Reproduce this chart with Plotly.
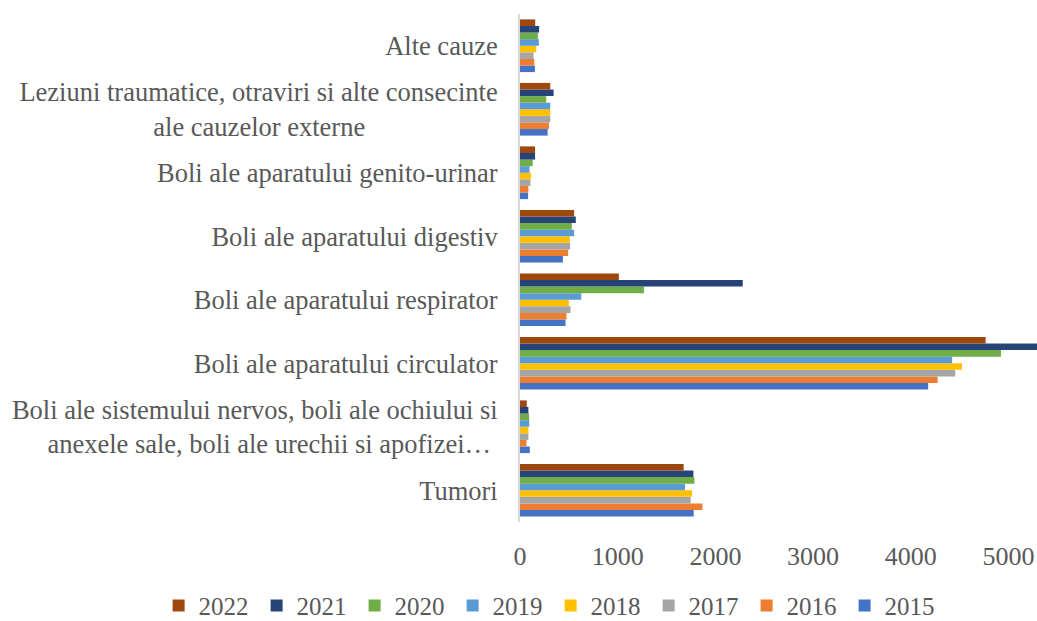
import plotly.graph_objects as go

categories = [
    "Tumori",
    "Boli ale sistemului nervos, boli ale ochiului si anexele sale, boli ale urechii si apofizei…",
    "Boli ale aparatului circulator",
    "Boli ale aparatului respirator",
    "Boli ale aparatului digestiv",
    "Boli ale aparatului genito-urinar",
    "Leziuni traumatice, otraviri si alte consecinte ale cauzelor externe",
    "Alte cauze",
]

tick_labels = [
    "Tumori",
    "Boli ale sistemului nervos, boli ale ochiului si<br>anexele sale, boli ale urechii si apofizei…" + "\u00a0",
    "Boli ale aparatului circulator",
    "Boli ale aparatului respirator",
    "Boli ale aparatului digestiv",
    "Boli ale aparatului genito-urinar",
    "Leziuni traumatice, otraviri si alte consecinte<br>ale cauzelor externe" + "\u00a0" * 20,
    "Alte cauze",
]

years = ["2015", "2016", "2017", "2018", "2019", "2020", "2021", "2022"]

v2015 = [1778, 100, 4178, 466, 439, 83, 283, 152]
v2016 = [1867, 66, 4275, 476, 493, 86, 296, 146]
v2017 = [1747, 86, 4455, 517, 513, 107, 310, 139]
v2018 = [1760, 86, 4524, 500, 510, 113, 310, 166]
v2019 = [1689, 95, 4424, 627, 554, 97, 310, 193]
v2020 = [1785, 93, 4923, 1268, 530, 130, 269, 183]
v2021 = [1775, 86, 5295, 2280, 571, 154, 344, 196]
v2022 = [1675, 69, 4766, 1012, 554, 154, 310, 156]

series = [v2015, v2016, v2017, v2018, v2019, v2020, v2021, v2022]
colors = ["#4472C4", "#ED7D31", "#A5A5A5", "#FFC000", "#5B9BD5", "#70AD47", "#264478", "#9E480E"]

fig = go.Figure()
for y, vals, c in zip(years, series, colors):
    fig.add_trace(go.Bar(
        y=categories, x=vals, name=y, orientation="h",
        marker=dict(color=c, line=dict(width=0)),
    ))

font_family = "Liberation Serif, Times New Roman, serif"
fig.update_layout(
    width=1037, height=621,
    barmode="group", bargap=0.17, bargroupgap=0,
    plot_bgcolor="white", paper_bgcolor="white",
    margin=dict(l=520, r=0, t=14, b=99, autoexpand=False),
    font=dict(family=font_family, size=25, color="#595959"),
    xaxis=dict(range=[0, 5292], tickvals=[0, 1000, 2000, 3000, 4000, 5000],
               showgrid=False, zeroline=False, showline=False,
               ticks="", ticklabelstandoff=16,
               tickfont=dict(size=26, color="#595959")),
    yaxis=dict(categoryorder="array", categoryarray=categories,
               tickvals=categories, ticktext=tick_labels,
               showgrid=False, zeroline=False, showline=True,
               linecolor="#D9D9D9", linewidth=2, ticks="",
               ticklabelstandoff=15,
               tickfont=dict(size=26.5, color="#595959")),
    legend=dict(orientation="h", traceorder="reversed",
                xref="paper", yref="paper",
                x=-0.699, xanchor="left", y=-0.165, yanchor="middle",
                font=dict(size=25, color="#595959"),
                entrywidth=53, entrywidthmode="pixels"),
    showlegend=True,
)

fig.write_html(
    "out.html",
    config={"displayModeBar": False},
    post_script="document.body.style.margin='0';document.body.style.overflow='hidden';",
)
